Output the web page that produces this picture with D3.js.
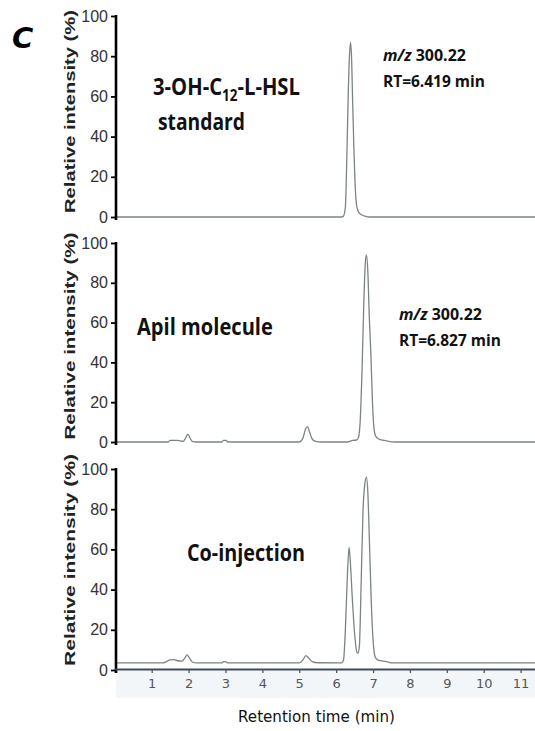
<!DOCTYPE html>
<html>
<head>
<meta charset="utf-8">
<script src="https://cdn.jsdelivr.net/npm/d3@7"></script>
<style>
  html, body { margin: 0; padding: 0; background: #fff; }
  svg { display: block; }
</style>
</head>
<body>
<svg id="chart" width="535" height="731"></svg>
<script>
// ---------- data ----------
const xTicks = [1, 2, 3, 4, 5, 6, 7, 8, 9, 10, 11];
const yTicks = [0, 20, 40, 60, 80, 100];

// [retention time (min), relative intensity (%)]
const standardTrace = [
  [0, 0], [6.15, 0], [6.2, 0.5], [6.25, 5], [6.29, 30], [6.32, 55], [6.36, 80],
  [6.39, 87], [6.42, 78], [6.45, 55], [6.48, 35], [6.52, 14], [6.56, 5],
  [6.62, 2], [6.7, 1], [6.8, 0.3], [6.9, 0], [11.39, 0]
];
const apilTrace = [
  [0, 0], [1.45, 0], [1.5, 0.8], [1.7, 0.8], [1.85, 0.3], [1.92, 2], [1.98, 4],
  [2.04, 2], [2.1, 0.3], [2.2, 0], [2.9, 0], [2.95, 0.8], [3.02, 0.8], [3.06, 0],
  [5.0, 0], [5.1, 2], [5.17, 6.5], [5.22, 7.7], [5.28, 5], [5.35, 1.5], [5.45, 0.3],
  [5.6, 0], [6.3, 0], [6.45, 0.8], [6.55, 1], [6.6, 2], [6.65, 10], [6.7, 35],
  [6.75, 70], [6.79, 90], [6.82, 94], [6.86, 85], [6.9, 62], [6.94, 45],
  [6.98, 22], [7.02, 8], [7.07, 3], [7.15, 1.5], [7.3, 0.8], [7.45, 0.2],
  [7.6, 0], [11.39, 0]
];
const coinjectionTrace = [
  [0, 3.5], [1.3, 3.5], [1.4, 4.2], [1.5, 5], [1.6, 5.2], [1.7, 4.6], [1.82, 4.4],
  [1.9, 6], [1.96, 7.5], [2.02, 6], [2.1, 4], [2.2, 3.5], [2.9, 3.5], [2.95, 4.2],
  [3.02, 4], [3.06, 3.5], [5.0, 3.5], [5.1, 5], [5.18, 7.2], [5.25, 6], [5.35, 4.2],
  [5.5, 3.6], [6.15, 3.5], [6.2, 5], [6.25, 20], [6.3, 45], [6.35, 61], [6.38, 55],
  [6.44, 35], [6.5, 18], [6.56, 9], [6.59, 8.3], [6.63, 12], [6.68, 45], [6.73, 80],
  [6.78, 93], [6.82, 96], [6.86, 88], [6.9, 65], [6.95, 35], [7.0, 15], [7.05, 7],
  [7.12, 5], [7.25, 4.5], [7.4, 4], [7.5, 3.5], [11.39, 3.5]
];

const panelNames = ["standard", "apil", "coinjection"];
const yTitle = "Relative intensity (%)";
const xTitle = "Retention time (min)";
const figLetter = "C";

// ---------- drawing ----------
const svg = d3.select("#chart");
const x = d3.scaleLinear().domain([0, 11.39]).range([114.8, 535]);

const panels = [
  { data: standardTrace, top: 16, bottom: 217, titleY: 111.5, titleLen: 203 },
  { data: apilTrace, top: 243, bottom: 442, titleY: 336, titleLen: 207 },
  { data: coinjectionTrace, top: 469, bottom: 670, titleY: 560, titleLen: 212 }
];

// faint band under the bottom x axis
svg.append("rect").attr("x", 116).attr("y", 671).attr("width", 419).attr("height", 27)
  .attr("fill", "#f3f6f9");

function fitText(parent, build, left, baseline, width) {
  const g = parent.append("g");
  const t = g.append("text").attr("x", 0).attr("y", baseline);
  build(t);
  const w = t.node().getBBox().width;
  g.attr("transform", `translate(${left},0) scale(${width / w},1)`);
  return g;
}

panels.forEach((p, i) => {
  const y = d3.scaleLinear().domain([0, 100]).range([p.bottom, p.top]);
  const g = svg.append("g").attr("class", "panel-" + panelNames[i]);

  // trace
  const line = d3.line().x(d => x(d[0])).y(d => y(d[1])).curve(d3.curveMonotoneX);
  g.append("path").datum(p.data)
    .attr("fill", "none").attr("stroke", "#7b8584").attr("stroke-width", 1.3)
    .attr("d", line);

  // y axis
  const ya = g.append("g").attr("transform", "translate(116,0)")
    .call(d3.axisLeft(y).tickValues(yTicks).tickSize(5).tickSizeOuter(0).tickPadding(3));
  ya.select(".domain").attr("stroke", "#000").attr("stroke-width", 2.6)
    .attr("d", `M0,${p.top - 1}V${p.bottom + 3}`);
  ya.selectAll(".tick line").attr("stroke", "#000").attr("stroke-width", 1.8);
  ya.selectAll(".tick text").attr("font-family", "Liberation Sans, Arial, sans-serif")
    .attr("font-size", 16).attr("fill", "#333");

  // y title
  g.append("text")
    .attr("transform", `translate(75,${p.titleY}) rotate(-90)`)
    .attr("text-anchor", "middle")
    .attr("font-family", "Liberation Sans, Arial, sans-serif")
    .attr("font-weight", "bold").attr("font-size", 15.5).attr("fill", "#222")
    .attr("textLength", p.titleLen).attr("lengthAdjust", "spacingAndGlyphs")
    .text(yTitle);
});

// bottom x axis
const xa = svg.append("g").attr("transform", "translate(0,669)")
  .call(d3.axisBottom(x).tickValues(xTicks).tickSize(4).tickSizeOuter(0).tickPadding(6));
xa.select(".domain").attr("stroke", "#3c4a58").attr("stroke-width", 2);
xa.selectAll(".tick line").attr("stroke", "#555").attr("stroke-width", 1.3);
xa.selectAll(".tick text").attr("font-family", "DejaVu Sans, sans-serif")
  .attr("font-size", 13).attr("fill", "#555");

// x title
svg.append("text").attr("x", 316.5).attr("y", 722).attr("text-anchor", "middle")
  .attr("font-family", "DejaVu Sans, sans-serif").attr("font-size", 15).attr("fill", "#111")
  .attr("textLength", 157).attr("lengthAdjust", "spacingAndGlyphs")
  .text(xTitle);

// figure letter
svg.append("text").attr("x", 12).attr("y", 48)
  .attr("font-family", "DejaVu Sans, sans-serif").attr("font-weight", "bold")
  .attr("font-style", "italic").attr("font-size", 29).attr("fill", "#000")
  .text(figLetter);

// panel labels
const labelFont = "Open Sans, Liberation Sans, sans-serif";
function styleBold(t, size) {
  t.attr("font-family", labelFont).attr("font-weight", "bold").attr("font-size", size).attr("fill", "#111");
}
fitText(svg, t => {
  styleBold(t, 24);
  t.append("tspan").text("3-OH-C");
  t.append("tspan").attr("font-size", 16).attr("dy", 6).text("12");
  t.append("tspan").attr("dy", -6).text("-L-HSL");
}, 153, 95, 147);
fitText(svg, t => { styleBold(t, 24); t.text("standard"); }, 158, 130, 87);
fitText(svg, t => { styleBold(t, 24); t.text("Apil molecule"); }, 137, 335, 136);
fitText(svg, t => { styleBold(t, 24); t.text("Co-injection"); }, 187, 561.5, 118);

// annotations
function mz(t) {
  styleBold(t, 16.5);
  t.append("tspan").attr("font-style", "italic").text("m/z");
  t.append("tspan").text(" 300.22");
}
fitText(svg, mz, 383, 61.5, 83);
fitText(svg, t => { styleBold(t, 16.5); t.text("RT=6.419 min"); }, 383, 87, 102);
fitText(svg, mz, 399, 320.5, 83);
fitText(svg, t => { styleBold(t, 16.5); t.text("RT=6.827 min"); }, 399, 346.5, 102);
</script>
</body>
</html>
